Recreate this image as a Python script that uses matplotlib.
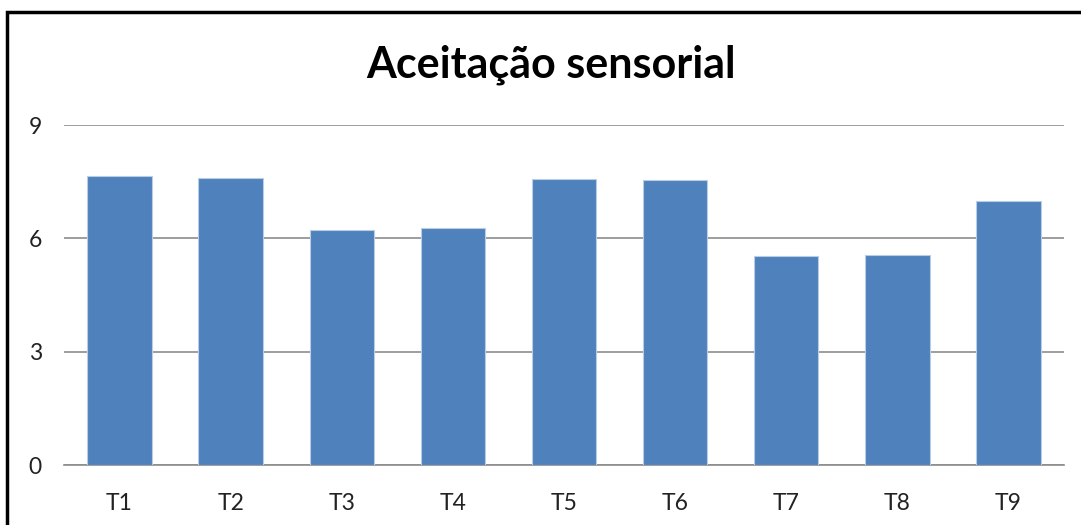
import matplotlib
matplotlib.use("Agg")
from matplotlib import pyplot, patches

# valores
tratamentos = ["T1", "T2", "T3", "T4", "T5", "T6", "T7", "T8", "T9"]
aceitacao = [7.64, 7.61, 6.21, 6.28, 7.57, 7.54, 5.53, 5.57, 7.00]
yticks = [0, 3, 6, 9]

W, H = 1081, 525
pyplot.rcParams['font.family'] = ['Lato', 'DejaVu Sans']

fig = pyplot.figure(figsize=(W / 100, H / 100), dpi=100)
ax = fig.add_axes([64 / W, 1 - 465 / H, 1000 / W, 340 / H])

x = range(len(tratamentos))
ax.bar(x, aceitacao, width=0.58, color='#4F81BD', edgecolor='#b9cde5', linewidth=0.8, zorder=3)

ax.set_ylim(0, 9)
ax.set_xlim(-0.5, len(tratamentos) - 0.5)
ax.set_yticks(yticks)
ax.set_xticks(list(x))
ax.set_xticklabels(tratamentos)
ax.yaxis.grid(True, color='#8c8c8c', linewidth=1.2, zorder=0)
ax.tick_params(axis='both', length=0, labelsize=16.5, colors='#222222')
ax.tick_params(axis='y', pad=16)
ax.tick_params(axis='x', pad=20)
for s in ['top', 'right', 'left']:
    ax.spines[s].set_visible(False)
ax.spines['bottom'].set_color('#8c8c8c')
ax.spines['bottom'].set_linewidth(1.2)

fig.text(551 / W, 1 - 65 / H, "Aceitação sensorial", ha='center', va='center',
         fontsize=31, fontweight='bold')

# moldura (cortada à direita e em baixo)
fig.add_artist(patches.Rectangle((7 / W, -0.1), 1.2, 1 - 12 / H + 0.1, transform=fig.transFigure,
                                 fill=False, edgecolor='black', linewidth=2.5))

fig.savefig('out.png', dpi=100)
